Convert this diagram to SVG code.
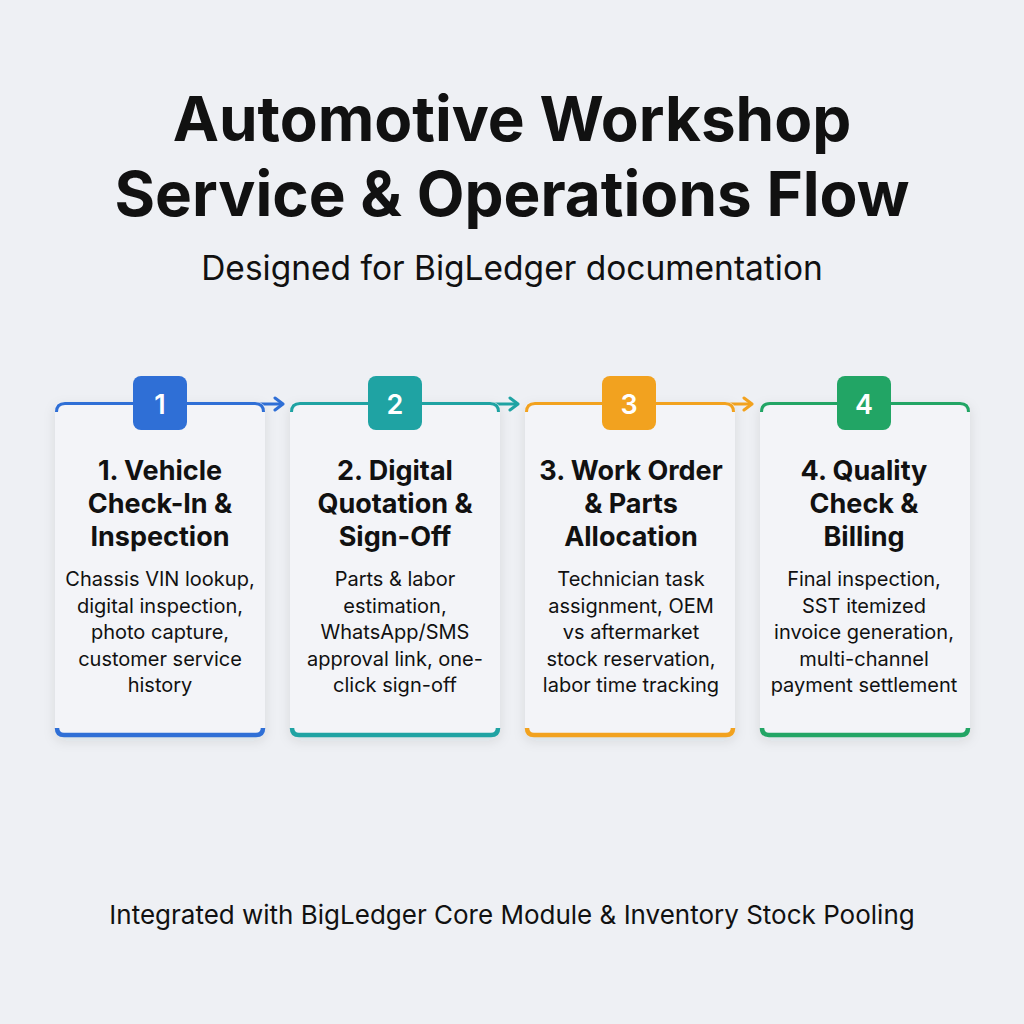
<svg xmlns="http://www.w3.org/2000/svg" width="1024" height="1024" viewBox="0 0 1024 1024">
<defs>
<filter id="sh" x="-20%" y="-20%" width="140%" height="140%">
<feDropShadow dx="0" dy="4" stdDeviation="6" flood-color="#1a2540" flood-opacity="0.10"/>
</filter>
<marker id="ah" viewBox="0 0 16 16" refX="11" refY="8" markerWidth="16" markerHeight="16" markerUnits="userSpaceOnUse" orient="auto">
<path d="M3,2 L11,8 L3,14" fill="none" stroke="context-stroke" stroke-width="3" stroke-linecap="round" stroke-linejoin="round"/>
</marker>
</defs>
<style>
text{font-family:Inter,"Liberation Sans",sans-serif;fill:#111;text-anchor:middle}
.t1{font-size:62px;font-weight:700}
.sub{font-size:33.5px}
.ct{font-size:27px;font-weight:700}
.cb{font-size:20px}
.badge{font-size:27px;font-weight:600;fill:#fff}
.foot{font-size:26px}
.card{fill:#f3f4f8;filter:url(#sh)}
.c1{stroke:#2f6fd6}.c2{stroke:#1fa3a3}.c3{stroke:#f2a21f}.c4{stroke:#22a565}
.f1{fill:#2f6fd6}.f2{fill:#1fa3a3}.f3{fill:#f2a21f}.f4{fill:#22a565}
.top{fill:none;stroke-width:3}
.bot{fill:none;stroke-width:4.5}
.arr{fill:none;stroke-width:3;marker-end:url(#ah)}
</style>
<rect width="1024" height="1024" fill="#eef0f4"/>
<text class="t1" x="512" y="141">Automotive Workshop</text>
<text class="t1" x="512" y="216">Service &amp; Operations Flow</text>
<text class="sub" x="512" y="280">Designed for BigLedger documentation</text>

<g id="connectors">
<line class="arr c1" x1="187" y1="404" x2="283" y2="404"/>
<line class="arr c2" x1="422" y1="404" x2="518" y2="404"/>
<line class="arr c3" x1="657" y1="404" x2="752" y2="404"/>
</g>

<g id="node1">
<rect class="card" x="55" y="402" width="210" height="335" rx="8"/>
<path class="top c1" d="M56.5,412 Q56.5,403.5 65,403.5 L255,403.5 Q263.5,403.5 263.5,412"/>
<path class="bot c1" d="M57,728 Q57,735 64,735 L256,735 Q263,735 263,728"/>
<rect class="f1" x="133" y="376" width="54" height="54" rx="8"/>
<text class="badge" x="160" y="414">1</text>
<text class="ct" x="160" y="480">1. Vehicle</text>
<text class="ct" x="160" y="513">Check-In &amp;</text>
<text class="ct" x="160" y="546">Inspection</text>
<text class="cb" x="160" y="586">Chassis VIN lookup,</text>
<text class="cb" x="160" y="613">digital inspection,</text>
<text class="cb" x="160" y="639">photo capture,</text>
<text class="cb" x="160" y="666">customer service</text>
<text class="cb" x="160" y="692">history</text>
</g>

<g id="node2">
<rect class="card" x="290" y="402" width="210" height="335" rx="8"/>
<path class="top c2" d="M291.5,412 Q291.5,403.5 300,403.5 L490,403.5 Q498.5,403.5 498.5,412"/>
<path class="bot c2" d="M292,728 Q292,735 299,735 L491,735 Q498,735 498,728"/>
<rect class="f2" x="368" y="376" width="54" height="54" rx="8"/>
<text class="badge" x="395" y="414">2</text>
<text class="ct" x="395" y="480">2. Digital</text>
<text class="ct" x="395" y="513">Quotation &amp;</text>
<text class="ct" x="395" y="546">Sign-Off</text>
<text class="cb" x="395" y="586">Parts &amp; labor</text>
<text class="cb" x="395" y="613">estimation,</text>
<text class="cb" x="395" y="639">WhatsApp/SMS</text>
<text class="cb" x="395" y="666">approval link, one-</text>
<text class="cb" x="395" y="692">click sign-off</text>
</g>

<g id="node3">
<rect class="card" x="525" y="402" width="210" height="335" rx="8"/>
<path class="top c3" d="M526.5,412 Q526.5,403.5 535,403.5 L725,403.5 Q733.5,403.5 733.5,412"/>
<path class="bot c3" d="M527,728 Q527,735 534,735 L726,735 Q733,735 733,728"/>
<rect class="f3" x="602" y="376" width="54" height="54" rx="8"/>
<text class="badge" x="629" y="414">3</text>
<text class="ct" x="631" y="480">3. Work Order</text>
<text class="ct" x="631" y="513">&amp; Parts</text>
<text class="ct" x="631" y="546">Allocation</text>
<text class="cb" x="631" y="586">Technician task</text>
<text class="cb" x="631" y="613">assignment, OEM</text>
<text class="cb" x="631" y="639">vs aftermarket</text>
<text class="cb" x="631" y="666">stock reservation,</text>
<text class="cb" x="631" y="692">labor time tracking</text>
</g>

<g id="node4">
<rect class="card" x="760" y="402" width="210" height="335" rx="8"/>
<path class="top c4" d="M761.5,412 Q761.5,403.5 770,403.5 L960,403.5 Q968.5,403.5 968.5,412"/>
<path class="bot c4" d="M762,728 Q762,735 769,735 L961,735 Q968,735 968,728"/>
<rect class="f4" x="837" y="376" width="54" height="54" rx="8"/>
<text class="badge" x="864" y="414">4</text>
<text class="ct" x="864" y="480">4. Quality</text>
<text class="ct" x="864" y="513">Check &amp;</text>
<text class="ct" x="864" y="546">Billing</text>
<text class="cb" x="864" y="586">Final inspection,</text>
<text class="cb" x="864" y="613">SST itemized</text>
<text class="cb" x="864" y="639">invoice generation,</text>
<text class="cb" x="864" y="666">multi-channel</text>
<text class="cb" x="864" y="692">payment settlement</text>
</g>

<text class="foot" x="512" y="924">Integrated with BigLedger Core Module &amp; Inventory Stock Pooling</text>
</svg>
